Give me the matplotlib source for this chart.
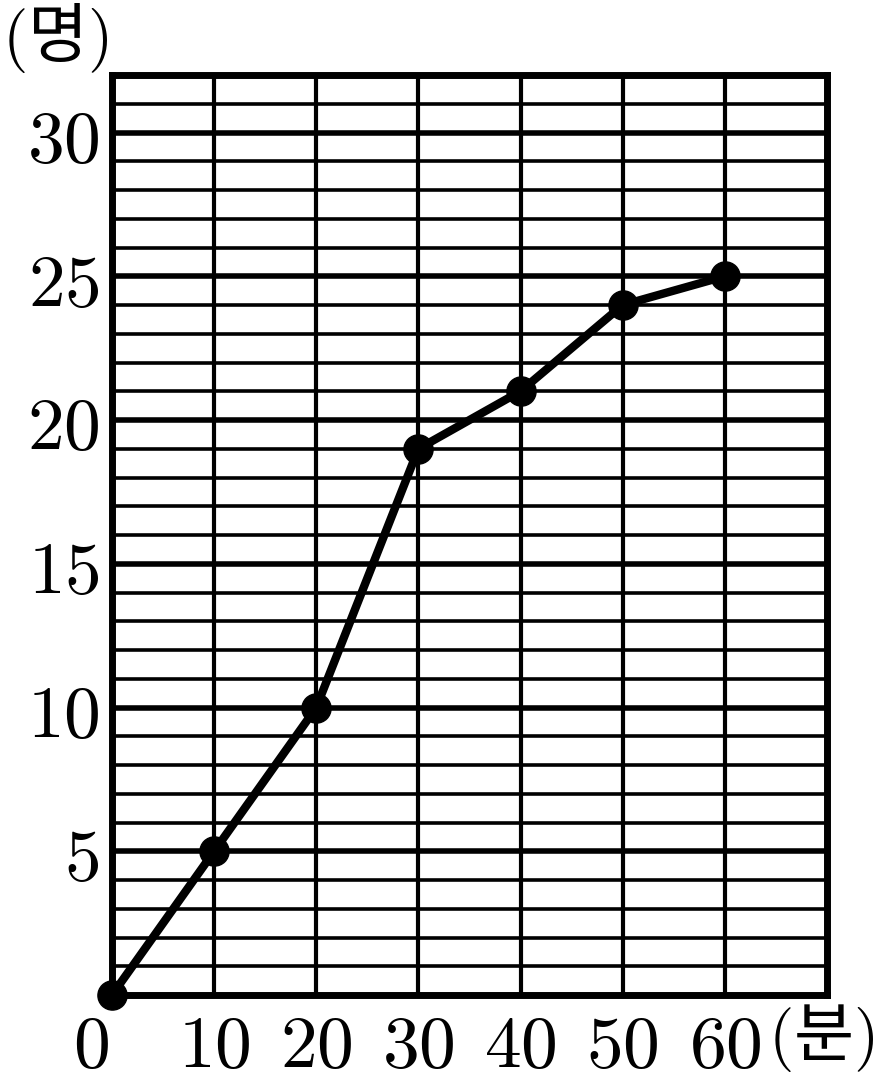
import matplotlib
matplotlib.use("Agg")
import matplotlib.pyplot as plt
import matplotlib.transforms as mtransforms

# data
minutes = [0, 10, 20, 30, 40, 50, 60]
people = [0, 5, 10, 19, 21, 24, 25]
x_labels = ['10', '20', '30', '40', '50', '60']
y_labels = ['5', '10', '15', '20', '25', '30']

plt.rcParams['mathtext.fontset'] = 'cm'
plt.rcParams['font.family'] = ['Noto Sans CJK KR', 'DejaVu Sans']

fig = plt.figure(figsize=(8.84, 10.88), dpi=100)
ax = fig.add_axes([112 / 884, 93 / 1088, 715 / 884, 920 / 1088])

ax.set_xlim(0, 70)
ax.set_ylim(0, 32)

# grid: thin every 1 person, thick every 5, vertical every 10 minutes
for v in range(1, 32):
    lw = 4.0 if v % 5 == 0 else 2.6
    ax.axhline(v, color='black', linewidth=lw, zorder=1)
for v in range(10, 70, 10):
    ax.axvline(v, color='black', linewidth=3.0, zorder=1)

for s in ax.spines.values():
    s.set_linewidth(5)
    s.set_zorder(3)

ax.plot(minutes, people, color='black', linewidth=6, marker='o',
        markersize=21, zorder=4, clip_on=False)

fs = 53
ax.set_xticks([int(t) for t in x_labels])
ax.set_xticklabels(['$%s$' % t for t in x_labels], fontsize=fs)
ax.set_yticks([int(t) for t in y_labels])
ax.set_yticklabels(['$%s$' % t for t in y_labels], fontsize=fs)
ax.tick_params(length=0)
ax.tick_params(axis='y', pad=9)
ax.tick_params(axis='x', pad=10)

trans = ax.transData + mtransforms.ScaledTranslation(0, -10 / 72, fig.dpi_scale_trans)
ax.text(-2.1, 0, '$0$', transform=trans, fontsize=fs,
        ha='center', va='top', clip_on=False)
fig.text(2 / 884, 1 - 1 / 1088, r'$($명$)$', fontsize=47,
         ha='left', va='top')
fig.text(768 / 884, 1 - 1002 / 1088, r'$($분$)$', fontsize=47,
         ha='left', va='top')

plt.savefig('out.png', dpi=100)
